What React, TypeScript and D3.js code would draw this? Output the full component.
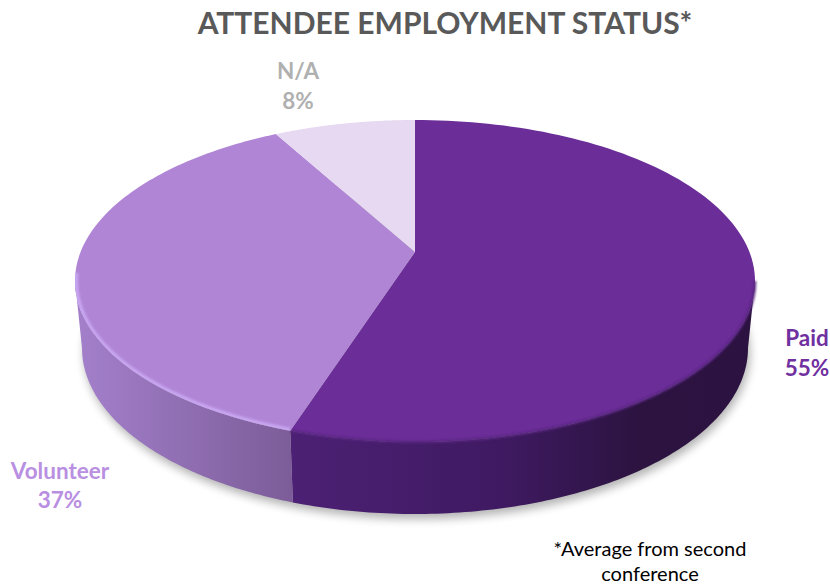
import React from "react";
import * as d3 from "d3";

const categories = ["Paid", "Volunteer", "N/A"];
const shares = [55, 37, 8];
const topColors = ["#6b2d98", "#b085d6", "#e6d9f1"];
const rimColors = ["#56257e", "#c8a6f0", "#e6d9f1"];
const labelColors = ["#7030a0", "#b98fe2", "#b0b0b0"];
const labelLines = [
  { x: 807, y1: 346, y2: 376 },
  { x: 60, y1: 479, y2: 508 },
  { x: 298, y1: 79, y2: 109 },
];
const footnoteLines = ["*Average from second", "conference"];

const WIDTH = 830;
const HEIGHT = 585;

// Tilted disc: unit circle seen in perspective, so the hub sits above the ellipse centre.
const CX = 415;
const HUB_Y = 252;
const FAR_Y = 120;
const NEAR_Y = 442;
const HALF_W = 340;
const k = (FAR_Y + NEAR_Y - 2 * HUB_Y) / (NEAR_Y - FAR_Y);
const B = HUB_Y - FAR_Y - FAR_Y * k;
const A = HALF_W * Math.sqrt(1 - k * k);
const TOP_MID_Y = (FAR_Y + NEAR_Y) / 2;

// Lower rim of the disc edge
const LOW_MID_Y = 348;
const LOW_W = 333;
const LOW_H = 166;

// Angles at which the projected disc is widest; the edge is only visible between them
const RIGHT_EXTREME = Math.acos(-k);
const LEFT_EXTREME = Math.PI * 2 - RIGHT_EXTREME;

function top(theta: number): [number, number] {
  const X = Math.sin(theta);
  const Y = Math.cos(theta);
  const d = 1 + k * Y;
  return [CX + (A * X) / d, (HUB_Y - B * Y) / d];
}

function low(theta: number): [number, number] {
  const [x, y] = top(theta);
  return [
    CX + ((x - CX) * LOW_W) / HALF_W,
    LOW_MID_Y + ((y - TOP_MID_Y) * LOW_H) / ((NEAR_Y - FAR_Y) / 2),
  ];
}

const pie = d3.pie<number>().sort(null).value((d) => d);
const slices = pie(shares);
const line = d3.line();

function sweep(a0: number, a1: number): number[] {
  return d3.range(0, 121).map((i) => a0 + ((a1 - a0) * i) / 120);
}

const topPath = (a0: number, a1: number) =>
  line([[CX, HUB_Y], ...sweep(a0, a1).map(top)]) + "Z";
const sidePath = (start: number, end: number) => {
  const a0 = Math.max(start, RIGHT_EXTREME);
  const a1 = Math.min(end, LEFT_EXTREME);
  return line([...sweep(a0, a1).map(top), ...sweep(a0, a1).reverse().map(low)]) + "Z";
};
const rimPath = (a0: number, a1: number) => line(sweep(a0, a1).map(top)) as string;
const wholeLow = line(sweep(0, Math.PI * 2).map(low)) + "Z";
const wholeTop = line(sweep(0, Math.PI * 2).map(top)) + "Z";

const sideStops = [
  [
    { o: 0, c: "#4c2074" },
    { o: 0.45, c: "#3f1a62" },
    { o: 0.75, c: "#2c1340" },
    { o: 1, c: "#2b1240" },
  ],
  [
    { o: 0, c: "#a480cc" },
    { o: 1, c: "#7c5c98" },
  ],
];
const sideGradientSpan = [
  [292, 755],
  [75, 294],
];

export default function App() {
  const font = "Lato, 'Open Sans', sans-serif";
  return (
    <svg
      width={WIDTH}
      height={HEIGHT}
      viewBox={`0 0 ${WIDTH} ${HEIGHT}`}
      style={{ position: "absolute", left: 0, top: 0, background: "#fff" }}
      fontFamily={font}
    >
      <defs>
        <filter id="cast" x="-10%" y="-10%" width="120%" height="130%">
          <feGaussianBlur stdDeviation="5" />
        </filter>
        <filter id="soft" x="-5%" y="-5%" width="110%" height="110%">
          <feGaussianBlur stdDeviation="1.1" />
        </filter>
        <clipPath id="face">
          <path d={wholeTop} />
        </clipPath>
        {sideStops.map((stops, i) => (
          <linearGradient
            key={i}
            id={`side-${i}`}
            gradientUnits="userSpaceOnUse"
            x1={sideGradientSpan[i][0]}
            x2={sideGradientSpan[i][1]}
            y1={0}
            y2={0}
          >
            {stops.map((s) => (
              <stop key={s.o} offset={s.o} stopColor={s.c} />
            ))}
          </linearGradient>
        ))}
      </defs>

      <text x={445} y={34} textAnchor="middle" fontSize={30} fontWeight={700} fill="#595959">
        ATTENDEE EMPLOYMENT STATUS*
      </text>

      {/* Soft shadow under the disc */}
      <path d={wholeLow} transform="translate(2,5)" fill="#000" opacity={0.3} filter="url(#cast)" />

      {/* Disc edge */}
      {slices.slice(0, 2).map((s, i) => (
        <path key={categories[i]} d={sidePath(s.startAngle, s.endAngle)} fill={`url(#side-${i})`} />
      ))}

      {/* Top face */}
      {slices.map((s, i) => (
        <path key={categories[i]} d={topPath(s.startAngle, s.endAngle)} fill={topColors[i]} />
      ))}

      {/* Bevel along the front rim */}
      <path
        d={rimPath(RIGHT_EXTREME, slices[0].endAngle)}
        fill="none"
        stroke={rimColors[0]}
        strokeWidth={2.5}
        filter="url(#soft)"
      />
      <g clipPath="url(#face)">
        <path
          d={rimPath(slices[1].startAngle, LEFT_EXTREME + 0.05)}
          fill="none"
          stroke={rimColors[1]}
          strokeWidth={6}
          filter="url(#soft)"
        />
      </g>

      {categories.map((c, i) => (
        <g
          key={c}
          textAnchor="middle"
          fontSize={22.5}
          fontWeight={700}
          fill={labelColors[i]}
        >
          <text x={labelLines[i].x} y={labelLines[i].y1}>{c}</text>
          <text x={labelLines[i].x} y={labelLines[i].y2}>{shares[i]}%</text>
        </g>
      ))}

      <g textAnchor="middle" fontSize={20} fill="#000">
        {footnoteLines.map((t, i) => (
          <text key={t} x={650} y={556 + i * 25}>{t}</text>
        ))}
      </g>
    </svg>
  );
}
